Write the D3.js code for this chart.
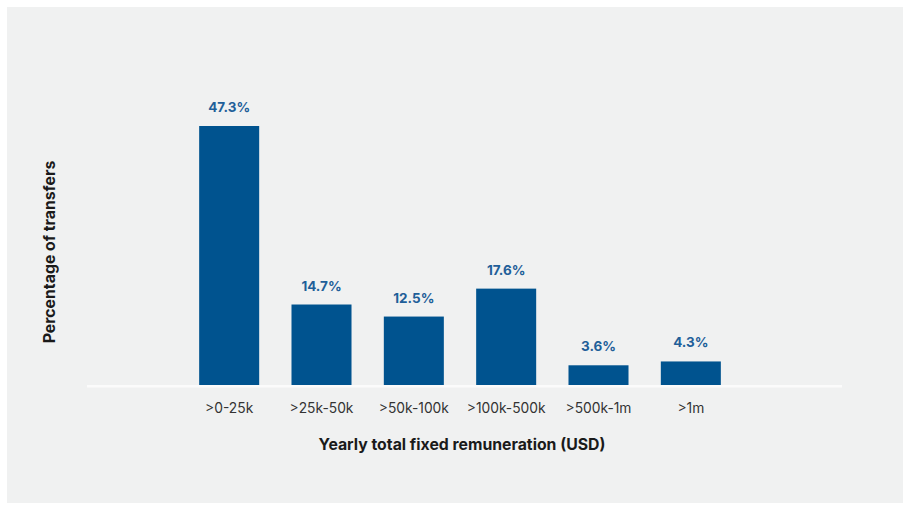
<!DOCTYPE html>
<html><head><meta charset="utf-8">
<script src="https://cdn.jsdelivr.net/npm/d3@7"></script>
<style>
html,body{margin:0;padding:0;background:#fff;}
svg{display:block;font-family:Inter,"Open Sans",sans-serif;}
</style></head>
<body>
<svg id="chart" width="904" height="506"></svg>
<script>
const categories = [">0-25k", ">25k-50k", ">50k-100k", ">100k-500k", ">500k-1m", ">1m"];
const values = [47.3, 14.7, 12.5, 17.6, 3.6, 4.3];
const valueLabels = ["47.3%", "14.7%", "12.5%", "17.6%", "3.6%", "4.3%"];
const xTitle = "Yearly total fixed remuneration (USD)";
const yTitle = "Percentage of transfers";

const svg = d3.select("#chart");
svg.append("rect").attr("x",7).attr("y",7).attr("width",896).attr("height",496).attr("fill","#f0f1f1");

const baseY = 385;
const x = d3.scaleBand().domain(categories).range([183, 737]).paddingInner(0.35).paddingOuter(0.175);
const y = d3.scaleLinear().domain([0, 47.3]).range([baseY, 126]);

const g = svg.append("g");
g.selectAll("rect.bar").data(values).join("rect")
  .attr("class","bar")
  .attr("x",(d,i)=>x(categories[i]))
  .attr("width",x.bandwidth())
  .attr("y",d=>y(d))
  .attr("height",d=>baseY-y(d))
  .attr("fill","#00538f");

g.selectAll("text.val").data(values).join("text")
  .attr("class","val")
  .attr("x",(d,i)=>x(categories[i])+x.bandwidth()/2)
  .attr("y",d=>y(d)-14)
  .attr("text-anchor","middle")
  .attr("font-size",13.5)
  .attr("font-weight",700)
  .attr("fill","#1f5f99")
  .text((d,i)=>valueLabels[i]);

// baseline
svg.append("line").attr("x1",87).attr("x2",842).attr("y1",baseY+1.2).attr("y2",baseY+1.2)
  .attr("stroke","#fbfbfb").attr("stroke-width",2.5);

// x axis labels
const xAxis = d3.axisBottom(x).tickSize(0).tickPadding(0);
const ax = svg.append("g").attr("transform",`translate(0,${baseY})`).call(xAxis);
ax.select(".domain").remove();
ax.selectAll("text").attr("y",28).attr("dy",0).attr("font-size",13.8).attr("fill","#333")
  .attr("font-family","Inter,'Open Sans',sans-serif");

svg.append("text").attr("x",462).attr("y",450).attr("text-anchor","middle")
  .attr("font-size",15.8).attr("font-weight",700).attr("fill","#1a1a1a").text(xTitle);

svg.append("text").attr("transform","translate(55,252) rotate(-90)").attr("text-anchor","middle")
  .attr("font-size",15.8).attr("font-weight",700).attr("fill","#1a1a1a").text(yTitle);
</script>
</body></html>
